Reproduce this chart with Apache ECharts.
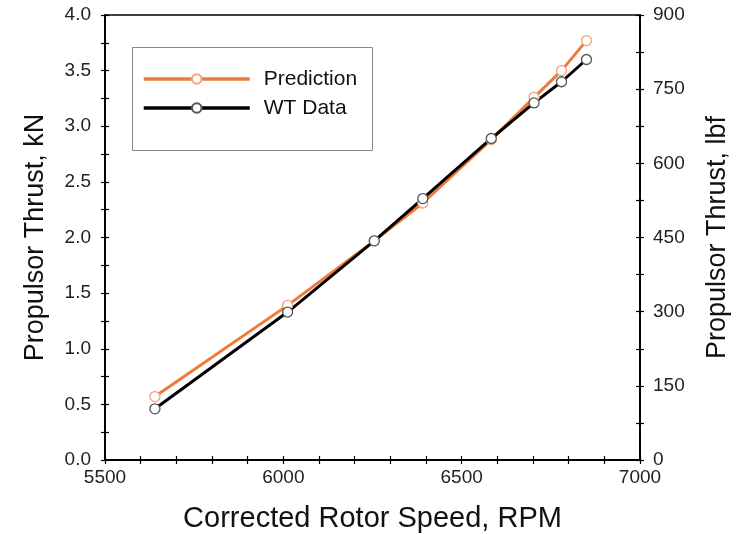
<!DOCTYPE html>
<html><head><meta charset="utf-8">
<script src="https://cdn.jsdelivr.net/npm/echarts@6/dist/echarts.min.js"></script>
<style>html,body{margin:0;padding:0;background:#fff}#c{width:738px;height:534px}</style>
</head><body><div id="c"></div>
<script>
const rpm = [5640, 6012, 6255, 6391, 6583, 6703, 6780, 6850];
const prediction = [0.57, 1.39, 1.97, 2.31, 2.88, 3.26, 3.50, 3.77];
const wtData = [0.46, 1.33, 1.97, 2.35, 2.89, 3.21, 3.40, 3.60];
const xTicks = [5500, 6000, 6500, 7000];
const kNTicks = [0, 0.5, 1, 1.5, 2, 2.5, 3, 3.5, 4];
const lbfTicks = [0, 150, 300, 450, 600, 750, 900];

const FONT = 'Liberation Sans, Arial, sans-serif';
const chart = echarts.init(document.getElementById('c'));
const lab = {color: '#222', fontSize: 19, fontFamily: FONT};
const axLine = {show: true, lineStyle: {color: '#000', width: 1.5}};
function xAx(inside, show) {
  return {type: 'value', min: xTicks[0], max: xTicks[xTicks.length - 1], interval: xTicks[1] - xTicks[0], position: 'bottom',
    axisLine: axLine, splitLine: {show: false},
    axisTick: {show: true, inside: inside, length: 4, lineStyle: {color: '#000', width: 1.2}},
    minorTick: {show: true, splitNumber: 5, length: 4, lineStyle: {color: '#000', width: 1.2}},
    axisLabel: show ? Object.assign({margin: 8, formatter: v => String(v)}, lab) : {show: false},
    name: show ? 'Corrected Rotor Speed, RPM' : '', nameLocation: 'middle', nameGap: 44,
    nameTextStyle: {fontSize: 29, color: '#111', fontFamily: FONT}};
}
function yAx(pos, inside, show, ticks, name, fmt, margin, gap) {
  return {type: 'value', min: ticks[0], max: ticks[ticks.length - 1], interval: ticks[1] - ticks[0], position: pos,
    axisLine: axLine, splitLine: {show: false},
    axisTick: {show: true, inside: inside, length: 4, lineStyle: {color: '#000', width: 1.2}},
    minorTick: {show: true, splitNumber: 2, length: 4, lineStyle: {color: '#000', width: 1.2}},
    axisLabel: show ? Object.assign({margin: margin, formatter: fmt}, lab) : {show: false},
    name: show ? name : '', nameLocation: 'middle', nameGap: gap,
    nameTextStyle: {fontSize: 27, color: '#111', fontFamily: FONT}};
}
chart.setOption({
  animation: false,
  grid: {left: 105, right: 98, top: 15, bottom: 74, outerBoundsMode: 'none', containLabel: false,
    show: true, borderColor: '#000', borderWidth: 1.5},
  legend: {
    left: 137, top: 63, orient: 'vertical', itemWidth: 106, itemHeight: 12, itemGap: 7,
    lineStyle: {width: 3.5},
    textStyle: {fontSize: 21, lineHeight: 22, color: '#111', fontFamily: FONT, padding: [0, 0, 0, 9]},
    data: ['Prediction', 'WT Data']
  },
  graphic: [{type: 'rect', left: 130, top: 45, shape: {width: 240, height: 103},
    style: {fill: 'none', stroke: '#888', lineWidth: 1}, z: 100}],
  xAxis: [xAx(false, true), xAx(true, false)],
  yAxis: [
    yAx('left', false, true, kNTicks, 'Propulsor Thrust, kN', v => v.toFixed(1), 14, 56),
    yAx('left', true, false, kNTicks, '', null, 0, 0),
    yAx('right', false, true, lbfTicks, 'Propulsor Thrust, lbf', v => String(v), 13, 64),
    yAx('right', true, false, lbfTicks, '', null, 0, 0)
  ],
  series: [
    {name: 'Prediction', type: 'line', data: rpm.map((x, i) => [x, prediction[i]]),
     symbol: 'circle', symbolSize: 10, showAllSymbol: true,
     lineStyle: {color: '#F07a3a', width: 3}, itemStyle: {color: '#fff', borderColor: '#F4a07a', borderWidth: 1.3}},
    {name: 'WT Data', type: 'line', data: rpm.map((x, i) => [x, wtData[i]]),
     symbol: 'circle', symbolSize: 10, showAllSymbol: true,
     lineStyle: {color: '#000', width: 3}, itemStyle: {color: '#fff', borderColor: '#555', borderWidth: 1.3}}
  ]
});
</script></body></html>
